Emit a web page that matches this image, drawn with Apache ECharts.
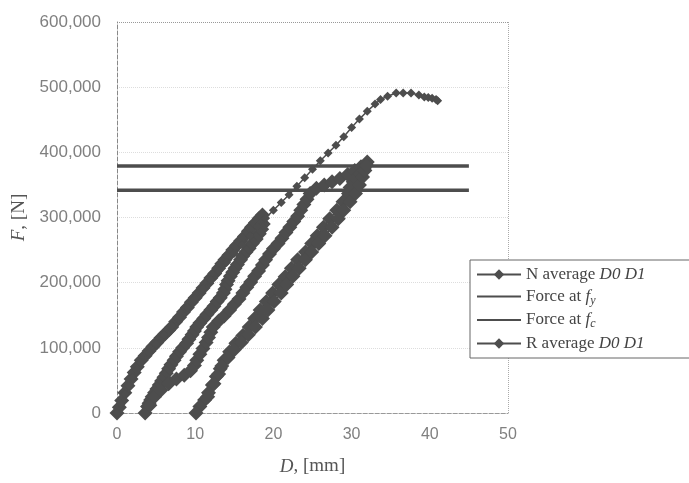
<!DOCTYPE html>
<html>
<head>
<meta charset="utf-8">
<script src="https://cdn.jsdelivr.net/npm/echarts@6/dist/echarts.min.js"></script>
<style>html,body{margin:0;padding:0;background:#fff;}#c{width:689px;height:483px;}</style>
</head>
<body>
<div id="c"></div>
<script>
// N average D0 D1 (cyclic loading): displacement D [mm], force F [N]
// loading 1 (left band)
const nLoad1D = [0,0.3,0.6,1,1.4,1.8,2.2,2.6,3.1,3.6,4.1,4.6,5.1,5.6,6.1,6.6,7,7.5,8,8.5,9,9.5,10,10.5,11,11.5,12,12.5,13,13.4,13.8,14.3,14.8,15.3,15.8,16.3,16.8,17.2,17.7,18.2,18.6];
const nLoad1F = [0,9000,19000,31000,42000,52000,62000,71000,81000,88000,95000,102000,108000,115000,121000,127000,132000,140000,147000,155000,162000,170000,177000,184000,192000,199000,207000,214000,222000,229000,235000,242000,250000,257000,264000,271000,279000,285000,292000,299000,304000];
// unloading 1 (middle band, left side)
const nUnload1D = [18.7,18.5,18.2,17.8,17.3,16.9,16.5,16.1,15.8,15.4,15.1,14.8,14.5,14.2,14.0,13.8,13.6,13.2,12.8,12.4,12.0,11.5,11.1,10.6,10.2,9.9,9.6,9.2,8.9,8.4,8.0,7.6,7.3,6.9,6.6,6.3,6.0,5.7,5.4,5.1,4.8,4.5,4.3,4.1,3.9,3.6];
const nUnload1F = [290000,282000,275000,267000,260000,253000,247000,241000,235000,228000,222000,216000,210000,203000,197000,190000,184000,177000,171000,164000,158000,151000,145000,138000,132000,126000,120000,113000,107000,100000,94000,87000,81000,74000,68000,61000,55000,49000,43000,37000,31000,25000,20000,15000,10000,0];
// reloading 2 (middle band, right side) up to the peak
const nReload2D = [4.2,4.8,5.6,6.6,7.6,8.6,9.4,9.9,10.2,10.6,11.0,11.4,11.7,12.0,12.3,13.0,13.7,14.4,15.0,15.6,16.1,16.6,17.1,17.6,18.1,18.6,19.0,19.5,20.0,20.6,21.1,21.6,22.1,22.6,23.1,23.5,23.9,24.3,24.7,25.5,26.5,27.5,28.5,29.5,30.4,31.2,32];
const nReload2F = [12000,25000,35000,45000,52000,58000,65000,73000,81000,90000,99000,108000,116000,124000,132000,141000,149000,158000,167000,175000,184000,193000,201000,210000,218000,227000,235000,244000,252000,260000,268000,277000,285000,294000,302000,311000,320000,328000,337000,345000,350000,355000,360000,366000,372000,378000,385000];
// unloading 2 (right band, left side)
const nUnload2D = [31.6,30.9,30.2,29.8,29.6,28.9,28.1,27.2,26.4,25.6,24.9,24.1,23.1,22.3,21.5,20.7,19.9,19.1,18.3,17.6,16.9,16.1,15.2,14.4,13.7,13.2,12.7,12.2,11.7,11.2,10.6,10.1];
const nUnload2F = [375000,365000,355000,346000,337000,324000,311000,298000,285000,272000,260000,247000,235000,222000,209000,197000,184000,171000,158000,145000,132000,119000,107000,94000,81000,68000,56000,43000,31000,20000,10000,0];
// reloading 3 (right band, right side)
const nReload3D = [11.6,12.4,13.0,13.4,14.2,15.0,15.9,16.8,17.7,18.6,19.3,20.1,21.0,21.7,22.5,23.3,24.1,24.9,25.8,26.6,27.5,28.3,29.0,29.8,30.5,31.0,31.4,31.7,31.9];
const nReload3F = [25000,45000,60000,72000,85000,97000,108000,120000,132000,145000,158000,171000,184000,197000,210000,222000,235000,247000,260000,272000,285000,298000,311000,324000,337000,350000,362000,372000,380000];
// R average D0 D1 (monotonic)
const rD = [0,0.5,1,1.5,2,2.5,3,4,5,6,7,8,9,10,11,12,13,14,15,16,17,18,19,20,21,22,23,24,25,26,27,28,29,30,31,32,33,33.7,34.6,35.7,36.6,37.6,38.6,39.3,39.8,40.3,40.8,41];
const rF = [0,14000,29000,42000,55000,66000,77000,93000,106000,120000,134000,148000,162000,176000,190000,204000,218000,231000,245000,258000,272000,286000,299000,311000,323000,335000,348000,361000,374000,387000,399000,411000,424000,438000,451000,463000,474000,481000,486000,491000,491000,491000,488000,485000,484000,483000,481000,479000];
// reference forces
const forceFy = 379000;
const forceFc = 342000;
const refD = [0, 45];
// axis ticks
const xTicks = [0, 10, 20, 30, 40, 50];
const yTicks = [0, 100000, 200000, 300000, 400000, 500000, 600000];

const zip = (a, b) => a.map((v, i) => [v, b[i]]);
const nData = [].concat(zip(nLoad1D, nLoad1F), zip(nUnload1D, nUnload1F), zip(nReload2D, nReload2F), zip(nUnload2D, nUnload2F), zip(nReload3D, nReload3F));
const fmt = v => String(v).replace(/\B(?=(\d{3})+(?!\d))/g, ',');
const dark = '#4d4d4d';
const chart = echarts.init(document.getElementById('c'));
chart.setOption({
  backgroundColor: '#ffffff',
  animation: false,
  grid: {left: 117, right: 181, top: 22, bottom: 70, show: false},
  xAxis: {
    type: 'value', min: xTicks[0], max: xTicks[xTicks.length - 1], interval: 10,
    axisLine: {show: true, onZero: false, lineStyle: {color: '#999', type: 'dashed', width: 1}},
    axisTick: {show: false},
    splitLine: {show: true, lineStyle: {color: ['none','none','none','none','none','#aaa'], type: 'dotted'}},
    axisLabel: {color: '#808080', fontFamily: 'Liberation Sans', fontSize: 16, margin: 14},
    name: '{i|D}{n|, [mm]}', nameLocation: 'middle', nameGap: 44,
    nameTextStyle: {rich: {
      i: {fontFamily: 'Liberation Serif', fontStyle: 'italic', fontSize: 19, color: '#555'},
      n: {fontFamily: 'Liberation Serif', fontSize: 19, color: '#555'}
    }}
  },
  yAxis: {
    type: 'value', min: yTicks[0], max: yTicks[yTicks.length - 1], interval: 100000,
    axisLine: {show: true, onZero: false, lineStyle: {color: '#888', type: 'dashed', width: 1}},
    axisTick: {show: false},
    splitLine: {show: true, lineStyle: {color: ['#ccc','#ddd','#ddd','#ddd','#ddd','#ddd','#999'], type: 'dotted'}},
    axisLabel: {color: '#808080', fontFamily: 'Liberation Sans', fontSize: 17, margin: 16, formatter: fmt},
    name: '{i|F}{n|, [N]}', nameLocation: 'middle', nameGap: 84, nameRotate: 90,
    nameTextStyle: {rich: {
      i: {fontFamily: 'Liberation Serif', fontStyle: 'italic', fontSize: 19, color: '#555'},
      n: {fontFamily: 'Liberation Serif', fontSize: 19, color: '#555'}
    }}
  },
  legend: {
    left: 470, top: 260, orient: 'vertical',
    itemWidth: 44, itemHeight: 13, itemGap: 5,
    padding: [6, 80, 6, 6],
    borderColor: '#666', borderWidth: 1, backgroundColor: '#fff',
    data: [
      {name: 'N'},
      {name: 'fy', itemStyle: {opacity: 0}},
      {name: 'fc', itemStyle: {opacity: 0}},
      {name: 'R'}
    ],
    formatter: function (name) {
      if (name === 'N') return '{n|N average }{i|D0 D1}';
      if (name === 'fy') return '{n|Force at }{i|f}{s|y}';
      if (name === 'fc') return '{n|Force at }{i|f}{s|c}';
      return '{n|R average }{i|D0 D1}';
    },
    textStyle: {rich: {
      n: {fontFamily: 'Liberation Serif', fontSize: 17, color: '#444'},
      i: {fontFamily: 'Liberation Serif', fontStyle: 'italic', fontSize: 17, color: '#444'},
      s: {fontFamily: 'Liberation Serif', fontStyle: 'italic', fontSize: 12, color: '#444', verticalAlign: 'bottom', padding: [8, 0, 0, 0]}
    }}
  },
  series: [
    {name: 'N', type: 'line', data: nData, symbol: 'diamond', symbolSize: 15,
      itemStyle: {color: dark}, lineStyle: {color: dark, width: 1.5}, z: 3},
    {name: 'fy', type: 'line', data: refD.map(d => [d, forceFy]), symbol: 'none',
      lineStyle: {color: dark, width: 3.5}, itemStyle: {color: dark}, z: 2},
    {name: 'fc', type: 'line', data: refD.map(d => [d, forceFc]), symbol: 'none',
      lineStyle: {color: dark, width: 3.5}, itemStyle: {color: dark}, z: 2},
    {name: 'R', type: 'line', data: zip(rD, rF), symbol: 'diamond', symbolSize: 9,
      itemStyle: {color: dark}, lineStyle: {color: dark, width: 1.5}, z: 4}
  ]
});
</script>
</body>
</html>
